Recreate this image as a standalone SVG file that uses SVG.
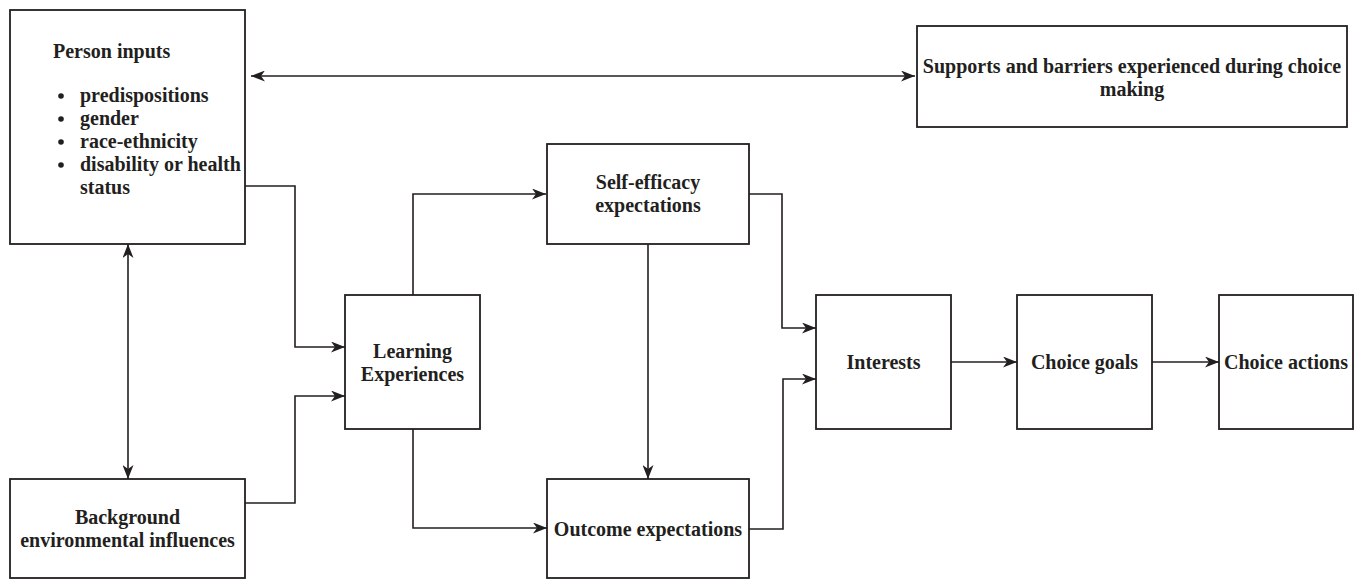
<svg xmlns="http://www.w3.org/2000/svg" width="1355" height="580" viewBox="0 0 1355 580">
<style>
.box{fill:#ffffff;stroke:#231f20;stroke-width:1.8}
.t{font-family:"Liberation Serif","Times New Roman",serif;font-weight:bold;font-size:20px;fill:#231f20}
.c{text-anchor:middle}
.e{fill:none;stroke:#231f20;stroke-width:1.6}
</style>
<defs>
<marker id="ah" viewBox="0 0 14 11" refX="14" refY="5.5" markerWidth="14" markerHeight="11" markerUnits="userSpaceOnUse" orient="auto-start-reverse">
<path d="M0,0 L14,5.5 L0,11 L4,5.5 z" fill="#231f20"/>
</marker>
</defs>
<rect width="1355" height="580" fill="#ffffff"/>
<g id="connectors">
<path class="e" d="M251,76 H915" marker-start="url(#ah)" marker-end="url(#ah)"/>
<path class="e" d="M128,244 V479" marker-start="url(#ah)" marker-end="url(#ah)"/>
<path class="e" d="M245,186 H295 V347 H345" marker-end="url(#ah)"/>
<path class="e" d="M245,503 H295 V396 H345" marker-end="url(#ah)"/>
<path class="e" d="M413,295 V194 H546" marker-end="url(#ah)"/>
<path class="e" d="M413,429 V528 H547" marker-end="url(#ah)"/>
<path class="e" d="M648,244 V479" marker-end="url(#ah)"/>
<path class="e" d="M749,194 H782 V328 H816" marker-end="url(#ah)"/>
<path class="e" d="M749,529 H783 V379 H816" marker-end="url(#ah)"/>
<path class="e" d="M951,362 H1017" marker-end="url(#ah)"/>
<path class="e" d="M1152,362 H1219" marker-end="url(#ah)"/>
</g>
<g id="person-inputs">
<rect class="box" x="10" y="10" width="235" height="234"/>
<text class="t" x="53" y="58">Person inputs</text>
<circle cx="61" cy="96" r="2.8" fill="#231f20"/>
<text class="t" x="80" y="102">predispositions</text>
<circle cx="61" cy="119" r="2.8" fill="#231f20"/>
<text class="t" x="80" y="125">gender</text>
<circle cx="61" cy="142" r="2.8" fill="#231f20"/>
<text class="t" x="80" y="148">race-ethnicity</text>
<circle cx="61" cy="165" r="2.8" fill="#231f20"/>
<text class="t" x="80" y="171">disability or health</text>
<text class="t" x="80" y="194">status</text>
</g>
<g id="supports">
<rect class="box" x="917" y="26" width="430" height="101"/>
<text class="t c" x="1132" y="73">Supports and barriers experienced during choice</text>
<text class="t c" x="1132" y="96">making</text>
</g>
<g id="background">
<rect class="box" x="10" y="479" width="235" height="99"/>
<text class="t c" x="127.5" y="524">Background</text>
<text class="t c" x="127.5" y="547">environmental influences</text>
</g>
<g id="learning">
<rect class="box" x="345" y="295" width="135" height="134"/>
<text class="t c" x="412.5" y="358">Learning</text>
<text class="t c" x="412.5" y="381">Experiences</text>
</g>
<g id="self-efficacy">
<rect class="box" x="547" y="144" width="202" height="100"/>
<text class="t c" x="648" y="189">Self-efficacy</text>
<text class="t c" x="648" y="212">expectations</text>
</g>
<g id="outcome">
<rect class="box" x="547" y="479" width="202" height="99"/>
<text class="t c" x="648" y="536">Outcome expectations</text>
</g>
<g id="interests">
<rect class="box" x="816" y="295" width="135" height="134"/>
<text class="t c" x="883.5" y="369">Interests</text>
</g>
<g id="choice-goals">
<rect class="box" x="1017" y="295" width="135" height="134"/>
<text class="t c" x="1084.5" y="369">Choice goals</text>
</g>
<g id="choice-actions">
<rect class="box" x="1219" y="295" width="134" height="134"/>
<text class="t c" x="1286" y="369">Choice actions</text>
</g>
</svg>
